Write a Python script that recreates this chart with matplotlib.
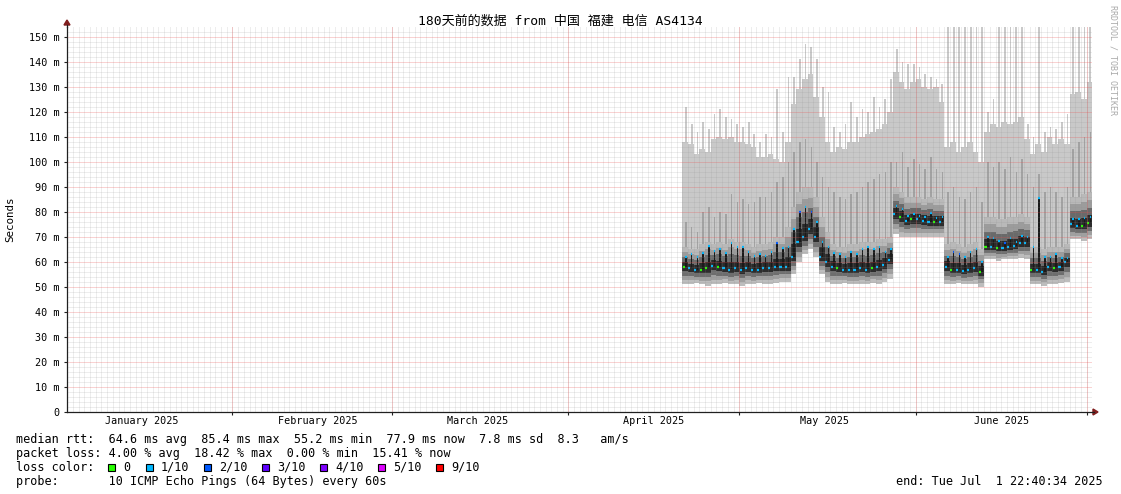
import numpy as np
import matplotlib
matplotlib.use('Agg')
import matplotlib.pyplot as plt
import matplotlib.dates as mdates
from matplotlib.patches import Polygon, Rectangle
from datetime import datetime, timedelta

W, H = 1121, 494

title = '180天前的数据 from 中国 福建 电信 AS4134'
t_end = datetime(2025, 7, 1, 22, 40, 34)
t_start = t_end - timedelta(days=180)
data_start = datetime(2025, 4, 21)

month_labels = ['January 2025', 'February 2025', 'March 2025',
                'April 2025', 'May 2025', 'June 2025']
month_starts = [datetime(2025, m, 1) for m in range(1, 8)]
y_ticks = list(range(0, 151, 10))
y_tick_labels = ['0'] + ['%d m' % v for v in y_ticks[1:]]

# per-day readings (ms), Apr 21 .. Jul 1
rtt_med = [58, 57.5, 56.8, 57, 57.5, 58.5, 58, 57.5, 57, 57.5, 57, 57.5, 57, 57, 57.5, 57.5, 58, 58,
           58, 62, 68, 70, 73, 70, 62, 60,
           58, 57.5, 57, 57, 57, 57.5, 57, 57.5, 58, 59, 61,
           79, 78, 76.5, 77, 77, 76.5, 76, 76, 76,
           58, 57, 57, 56.5, 57, 57.5, 56,
           66, 66, 65.5, 65.5, 66, 66.5, 67.5, 67.5,
           57, 57, 56, 58, 57.5, 58, 60,
           75, 74.5, 74.5, 75.5]
rtt_peak = [62, 63, 62, 63.5, 66.5, 64.5, 65, 63.5, 67.5, 66, 66, 64, 62.5, 63, 62.5, 64, 67.5, 65.5,
            66, 73, 80, 82, 80, 76, 68, 66,
            63.5, 63, 62, 64, 63, 65, 66, 65, 66, 64, 65,
            82.5, 81, 78.5, 79, 78.5, 78, 79.5, 77.5, 78,
            62, 64, 63, 62, 64, 65, 60,
            70, 69.5, 68.5, 67.5, 69.5, 68, 70.5, 70,
            66, 85.5, 62, 62, 63, 61.5, 61.5,
            77, 77, 77.5, 78]
rtt_low = [51, 51, 51.5, 51, 50.5, 51, 51, 51.5, 51, 51, 50.5, 51, 51, 51.5, 51, 51, 51.5, 52,
           52, 55, 60, 63, 65, 62, 55, 52,
           51, 51, 51.5, 51, 51, 51, 51, 51.5, 51, 52, 53,
           71, 70, 70, 70, 70, 70, 70, 70, 70,
           51, 51, 51.5, 51, 51, 51, 50,
           61, 61, 60.5, 61, 61, 61, 61.5, 61,
           51, 51, 50.5, 51, 51, 51.5, 52,
           69, 69, 68.5, 69]
rtt_high = [66, 65, 65, 67, 68, 67, 68, 67, 69, 68, 68, 67, 66, 67, 67, 68, 70, 70,
            74, 82, 88, 90, 90, 86, 78, 72,
            67, 66, 66, 67, 67, 68, 68, 68, 69, 69, 70,
            90, 88, 86, 86, 86, 85, 86, 85, 85,
            67, 68, 67, 66, 67, 68, 65,
            78, 78, 77, 77, 78, 78, 79, 78,
            66, 66, 65, 66, 66, 66, 67,
            86, 86, 87, 88]
rtt_spike = [76, 74, 72, 80, 82, 78, 80, 79, 87, 84, 85, 83, 84, 86, 86, 88, 92, 94,
             100, 104, 108, 109, 106, 100, 94, 90,
             88, 86, 85, 87, 88, 90, 92, 93, 95, 96, 100,
             100, 104, 98, 101, 99, 97, 102, 97, 96,
             88, 90, 86, 85, 88, 90, 84,
             100, 98, 100, 97, 102, 96, 101, 95,
             90, 95, 88, 90, 88, 86, 90,
             105, 108, 110, 112]
rtt_max = [108, 107, 103, 105, 104, 109, 110, 109, 110, 108, 108, 107, 106, 102, 102, 103, 101, 100,
           108, 123, 129, 133, 135, 126, 118, 108,
           104, 106, 105, 108, 108, 110, 111, 112, 113, 115, 120,
           136, 132, 129, 132, 133, 130, 129, 130, 124,
           106, 108, 104, 106, 108, 104, 100,
           112, 115, 114, 116, 115, 116, 118, 109,
           103, 107, 104, 110, 107, 109, 107,
           127, 128, 125, 132]
rtt_max_peak = [122, 115, 112, 116, 113, 119, 121, 118, 117, 115, 114, 116, 111, 108, 111, 110, 129, 112,
                134, 134, 141, 147, 146, 141, 130, 128,
                114, 112, 115, 124, 118, 121, 120, 126, 122, 125, 133,
                145, 140, 139, 139, 138, 135, 134, 133, 131,
                160, 160, 160, 160, 160, 160, 160,
                120, 125, 160, 160, 160, 160, 160, 115,
                110, 160, 112, 114, 113, 116, 119,
                160, 160, 160, 160]
loss_med = [0, 1, 1, 0, 0, 1, 0, 1, 1, 1, 1, 1, 1, 1, 1, 1, 1, 1,
            1, 1, 1, 1, 1, 1, 1, 1,
            1, 0, 1, 1, 1, 1, 1, 0, 1, 1, 1,
            1, 0, 1, 0, 1, 1, 1, 0, 1,
            1, 0, 1, 1, 1, 1, 0,
            0, 1, 0, 1, 1, 1, 1, 1,
            0, 1, 1, 1, 0, 1, 1,
            1, 1, 0, 0]
loss_peak = [1, 1, 1, 1, 1, 1, 1, 1, 1, 1, 1, 1, 1, 1, 1, 1, 2, 1,
             1, 1, 2, 1, 2, 1, 1, 1,
             1, 1, 1, 1, 1, 1, 1, 1, 1, 1, 1,
             1, 1, 1, 1, 1, 1, 1, 1, 1,
             1, 2, 2, 1, 1, 1, 1,
             1, 1, 1, 2, 1, 1, 1, 1,
             1, 1, 1, 1, 1, 1, 1,
             1, 1, 1, 1]

loss_steps = [0, 1, 2, 3, 4, 5, 9]
loss_names = ['0', '1/10', '2/10', '3/10', '4/10', '5/10', '9/10']
loss_colors = ['#26ff00', '#00b8ff', '#0059ff', '#5e00ff', '#7e00ff', '#dd00ff', '#ff0000']

stats = ['median rtt:  64.6 ms avg  85.4 ms max  55.2 ms min  77.9 ms now  7.8 ms sd  8.3   am/s',
         'packet loss: 4.00 % avg  18.42 % max  0.00 % min  15.41 % now',
         'loss color:',
         'probe:       10 ICMP Echo Pings (64 Bytes) every 60s']
end_text = 'end: Tue Jul  1 22:40:34 2025'

plt.rcParams['font.family'] = ['DejaVu Sans Mono', 'Noto Sans CJK SC']


def fx(x):
    return x / W


def fy(y):
    return 1 - y / H


fig = plt.figure(figsize=(W / 100, H / 100), dpi=100)
fig.patch.set_facecolor('white')
ax = fig.add_axes([fx(67), fy(412), (1092 - 67) / W, (412 - 27) / H])
ax.set_facecolor('white')

x_lo = mdates.date2num(t_start)
x_hi = mdates.date2num(t_end)
d0 = mdates.date2num(data_start)
days = d0 + np.arange(len(rtt_med))
med = np.array(rtt_med, float)
pk = np.array(rtt_peak, float)
lo = np.array(rtt_low, float)
hi = np.array(rtt_high, float)
sp = np.array(rtt_spike, float)
mx = np.array(rtt_max, float)
mxp = np.array(rtt_max_peak, float)

kw = dict(align='edge', linewidth=0, antialiased=False)
# light smoke
ax.bar(days, mx - lo, 1.0, bottom=lo, color='#c9c9c9', zorder=1, **kw)
ax.bar(days + 0.5, mxp - lo, 0.3, bottom=lo, color='#c9c9c9', zorder=1, **kw)
# evening spike of the upper pings
ax.bar(days + 0.52, sp - med, 0.26, bottom=med, color='#a2a2a2', zorder=2, **kw)
# smoke below the median, light -> dark
for k, c in enumerate(['#bdbdbd', '#a0a0a0', '#6e6e6e', '#2c2c2c']):
    b = lo + (med - lo) * k / 4
    ax.bar(days, med - b, 1.0, bottom=b, color=c, zorder=3, **kw)
# smoke above the median, light -> dark
for k, c in enumerate(['#b9b9b9', '#9c9c9c', '#6a6a6a', '#2a2a2a']):
    t = hi - (hi - med) * k / 4
    ax.bar(days, t - med, 1.0, bottom=med, color=c, zorder=3, **kw)
# dark core at the daily peak
ax.bar(days + 0.52, pk - med, 0.26, bottom=med, color='#1a1a1a', zorder=4, **kw)

cmap = dict(zip(loss_steps, loss_colors))
ax.hlines(med, days + 0.05, days + 0.42, colors=[cmap[v] for v in loss_med],
          lw=1.6, zorder=5)
ax.hlines(pk, days + 0.52, days + 0.78, colors=[cmap[v] for v in loss_peak],
          lw=1.6, zorder=5)

# grid drawn on top, rrdtool style (light dotted lines)
minor_col = (0.56, 0.56, 0.56, 0.3)
major_col = (0.92, 0.30, 0.30, 0.5)
g = dict(lw=0.72, linestyles=(0, (1, 1)))
all_days = np.arange(np.ceil(x_lo), x_hi)
ax.vlines(all_days, 0, 154, colors=[minor_col], zorder=6, **g)
ax.hlines([v for v in range(2, 154, 2) if v % 10], x_lo, x_hi, colors=[minor_col],
          zorder=6, **g)
ms = [mdates.date2num(m) for m in month_starts[1:]]
ax.vlines(ms, 0, 154, colors=[major_col], zorder=7, **g)
ax.hlines(y_ticks[1:], x_lo, x_hi, colors=[major_col], zorder=7, **g)

ax.set_xlim(x_lo, x_hi)
ax.set_ylim(0, 154)
for s in ['top', 'right']:
    ax.spines[s].set_visible(False)
for s in ['left', 'bottom']:
    ax.spines[s].set_color('#202020')
    ax.spines[s].set_linewidth(0.9)
    ax.spines[s].set_zorder(8)

ax.set_yticks(y_ticks)
ax.set_yticklabels(y_tick_labels, fontsize=7.3)
ax.set_xticks(ms)
ax.set_xticklabels([])
ax.tick_params(axis='both', length=2.2, width=0.8, color='#202020', pad=2.9)

for i, lab in enumerate(month_labels):
    xm = mdates.date2num(month_starts[i]) + 15
    ax.text(xm, -9 / 385, lab, transform=ax.get_xaxis_transform(), ha='center',
            va='center', fontsize=7.3)

# axis extensions with arrows
fig.add_artist(plt.Line2D([fx(1092), fx(1094)], [fy(412), fy(412)], color='#202020',
                          lw=0.9, transform=fig.transFigure))
fig.add_artist(plt.Line2D([fx(67), fx(67)], [fy(27), fy(25)], color='#202020',
                          lw=0.9, transform=fig.transFigure))
fig.add_artist(Polygon([(fx(1093), fy(409)), (fx(1093), fy(415)), (fx(1098), fy(412))],
                       closed=True, color='#801e1e', transform=fig.transFigure))
fig.add_artist(Polygon([(fx(64), fy(25)), (fx(70), fy(25)), (fx(67), fy(20))],
                       closed=True, color='#801e1e', transform=fig.transFigure))

fig.text(fx(560.5), fy(21), title, ha='center', va='center', fontsize=9.4)
fig.text(fx(10), fy(219), 'Seconds', rotation=90, ha='center', va='center', fontsize=7.8)
fig.text(fx(1113), fy(60), 'RRDTOOL / TOBI OETIKER', rotation=270, ha='center',
         va='center', fontsize=6, color='#aaaaaa')

rows = [439, 453, 467, 481]
for y, s in zip(rows, stats):
    fig.text(fx(16), fy(y), s, ha='left', va='center', fontsize=8.5)
fig.text(fx(1103), fy(rows[3]), end_text, ha='right', va='center', fontsize=8.5)

box_x = [108, 146, 204, 262, 320, 378, 436]
for bx, name, col in zip(box_x, loss_names, loss_colors):
    fig.add_artist(Rectangle((fx(bx), fy(rows[2] + 3.5)), 7 / W, 7 / H, facecolor=col,
                             edgecolor='black', lw=0.8, transform=fig.transFigure))
    fig.text(fx(bx + 15), fy(rows[2]), name, ha='left', va='center', fontsize=8.5)

fig.savefig('out.png', dpi=100, facecolor='white')
